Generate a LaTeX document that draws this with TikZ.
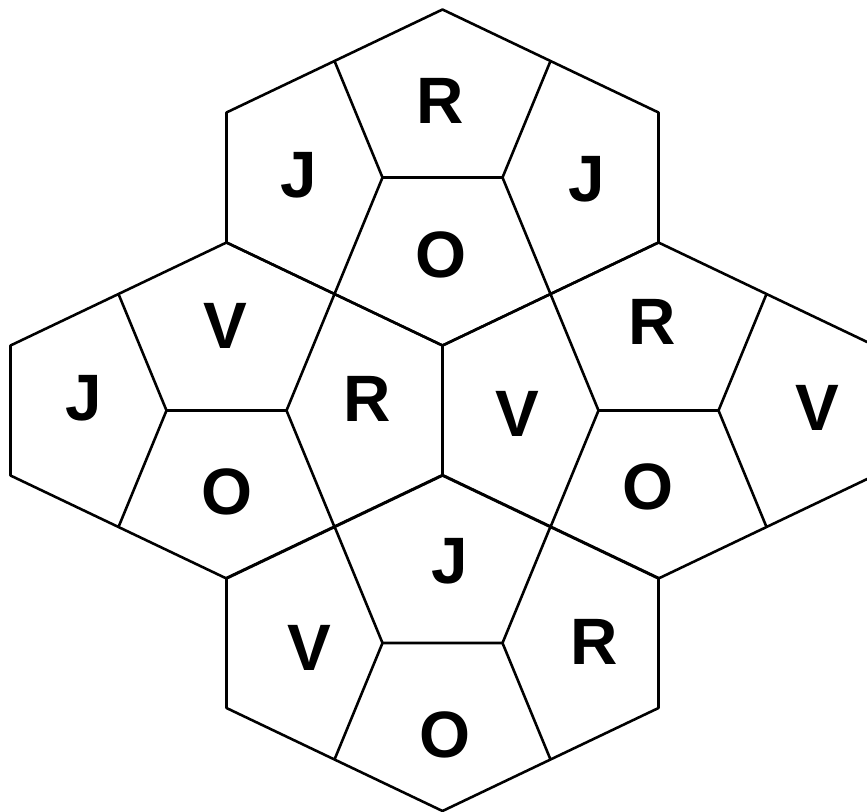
\documentclass[tikz,border=0pt]{standalone}
\usepackage{fontspec}
\setmainfont{Liberation Sans}
\begin{document}
\begin{tikzpicture}[x=0.03cm, y=-0.03cm, line width=2.2pt, line join=round,
    letter/.style={font=\fontsize{56}{60}\selectfont\bfseries, inner sep=0pt}]
    \useasboundingbox (0,0) rectangle (867,812);

    % 1. Four hexagons, each cut into four pentagons
    \foreach \cx/\cy in {442.5/177.5, 226.5/410.5, 658.5/410.5, 442.5/643} {
        \begin{scope}[shift={(\cx,\cy)}]
            \draw (0,-168) -- (216,-65) -- (216,65) -- (0,168) -- (-216,65) -- (-216,-65) -- cycle;
            \draw (-108,-116.5) -- (-60,0) -- (60,0) -- (108,-116.5);
            \draw (-60,0) -- (-108,116.5);
            \draw (60,0) -- (108,116.5);
        \end{scope}
    }

    % 2. Letters in the pentagons
    \foreach \x/\y/\l/\n in {440/101/R/tR, 299/175/J/tJa, 587/179/J/tJb, 441/255/O/tO,
                             225/326/V/lV, 84/398/J/lJ, 227/492/O/lO, 367/399/R/lR,
                             652/322/R/rR, 517/414/V/rVa, 817/408/V/rVb, 648/487/O/rO,
                             450/561/J/bJ, 309/648/V/bV, 594/642/R/bR, 445/735/O/bO} {
        \node[letter] (\n) at (\x,\y) {\l};
    }
\end{tikzpicture}
\end{document}
